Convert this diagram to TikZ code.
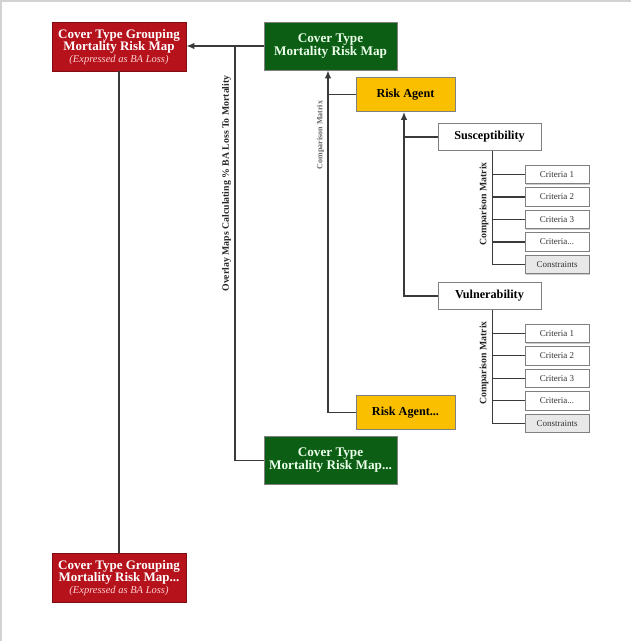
\documentclass[tikz,border=0pt]{standalone}
\usepackage{fontspec}
\setmainfont{Liberation Serif}
\usetikzlibrary{arrows.meta,shadows}
\definecolor{boxred}{HTML}{B5121B}
\definecolor{boxgreen}{HTML}{0B5E13}
\definecolor{boxyellow}{HTML}{FAC000}
\definecolor{linegray}{HTML}{3A3A3A}
\tikzset{
  redbox/.style={fill=boxred, draw=boxred!70!black, line width=0.6pt, text=white, font=\bfseries\fontsize{13}{12}\selectfont, align=center, minimum width=134pt, minimum height=49pt, inner sep=0pt},
  greenbox/.style={fill=boxgreen, draw=gray, line width=0.6pt, text=white!92!green, font=\bfseries\fontsize{13.2}{13}\selectfont, align=center, minimum width=133pt, minimum height=48pt, inner sep=0pt},
  yellowbox/.style={fill=boxyellow, draw=gray, line width=0.6pt, text=black, font=\bfseries\fontsize{12.2}{13}\selectfont, align=center, minimum width=99pt, minimum height=34pt, inner sep=0pt},
  whitebox/.style={fill=white, draw=gray, line width=0.8pt, text=black, font=\bfseries\fontsize{12.2}{13}\selectfont, align=center, minimum width=103pt, minimum height=27pt, inner sep=0pt, drop shadow={shadow xshift=0.8pt, shadow yshift=-0.8pt, fill=gray!40, opacity=1}},
  critbox/.style={fill=white, draw=gray, line width=0.8pt, text=black!80, font=\fontsize{9}{10}\selectfont, align=center, minimum width=64pt, minimum height=18.5pt, inner sep=0pt, drop shadow={shadow xshift=0.8pt, shadow yshift=-0.8pt, fill=gray!40, opacity=1}},
  consbox/.style={critbox, fill=gray!18},
  conn/.style={draw=linegray, line width=1.7pt},
  arr/.style={conn, -{Latex[length=8pt,width=6.5pt]}},
  vlabel/.style={rotate=90, font=\bfseries\fontsize{9.8}{10}\selectfont, text=black!85, inner sep=0pt},
  vsmall/.style={rotate=90, font=\bfseries\fontsize{8}{8}\selectfont, text=black!60, inner sep=0pt}
}
\newcommand{\subline}{{\color{white!82!red}\itshape\mdseries\fontsize{10.5}{11}\selectfont (Expressed as BA Loss)}}
\begin{document}
\begin{tikzpicture}[x=1pt,y=-1pt]
\useasboundingbox (0,0) rectangle (631,641);
\fill[white] (0,0) rectangle (631,641);
\draw[gray!35, line width=1.5pt] (0.75,641) -- (0.75,0.75) -- (631,0.75);

% main boxes
\node[redbox] (r1) at (119,46.5) {};
\node[font=\bfseries\fontsize{13}{12}\selectfont, text=white, align=center, inner sep=0pt] (r1t) at (119,47.5) {Cover Type Grouping\\Mortality Risk Map\\\subline};
\node[greenbox] (g1) at (330.5,46) {Cover Type\\Mortality Risk Map};
\node[greenbox] (g2) at (330.5,460.5) {Cover Type\\Mortality Risk Map...};
\node[redbox] (r2) at (119,577.5) {};
\node[font=\bfseries\fontsize{13}{12}\selectfont, text=white, align=center, inner sep=0pt] (r2t) at (119,578.5) {Cover Type Grouping\\Mortality Risk Map...\\\subline};

\node[yellowbox] (ra1) at (405.5,94.5) {Risk Agent};
\node[yellowbox] (ra2) at (405.5,412.5) {Risk Agent...};

\node[whitebox] (su) at (489.5,137) {Susceptibility};
\node[whitebox] (vu) at (489.5,296) {Vulnerability};

% criteria for susceptibility
\node[critbox] (s1) at (557,174.5) {Criteria 1};
\node[critbox] (s2) at (557,197) {Criteria 2};
\node[critbox] (s3) at (557,219.5) {Criteria 3};
\node[critbox] (s4) at (557,242) {Criteria...};
\node[consbox] (s5) at (557,264.5) {Constraints};

% criteria for vulnerability
\node[critbox] (v1) at (557,333.6) {Criteria 1};
\node[critbox] (v2) at (557,355.8) {Criteria 2};
\node[critbox] (v3) at (557,378.2) {Criteria 3};
\node[critbox] (v4) at (557,400.8) {Criteria...};
\node[consbox] (v5) at (557,423.3) {Constraints};

% junction coordinates
\coordinate (j1) at (235,46);
\coordinate (j2) at (328,412.5);
\coordinate (j3) at (404,296);
\coordinate (j4) at (492,264.5);
\coordinate (j5) at (492,423.3);

% connectors
\draw[arr] (g1.west) -- (r1.east |- g1.west);
\draw[conn] (j1) |- (g2.west);
\draw[conn] (r1.south) -- (r2.north);

\draw[arr] (ra2.west) -- (j2) -- (j2 |- g1.south);
\draw[conn] (ra1.west) -- (ra1.west -| j2);

\draw[arr] (vu.west) -- (j3) -- (j3 |- ra1.south);
\draw[conn] (su.west) -- (su.west -| j3);

\draw[conn, line width=0.9pt] (j4 |- su.south) -- (j4);
\foreach \n in {s1,s2,s3,s4,s5} \draw[conn, line width=1.3pt] (\n.west -| j4) -- (\n.west);
\draw[conn, line width=0.9pt] (j5 |- vu.south) -- (j5);
\foreach \n in {v1,v2,v3,v4,v5} \draw[conn, line width=1.3pt] (\n.west -| j5) -- (\n.west);

% rotated labels
\node[vlabel] (ol) at (226.5,183.5) {Overlay Maps Calculating \% BA Loss To Mortality};
\node[vsmall] (cm0) at (320.5,135) {Comparison Matrix};
\node[vlabel] (cm1) at (484,204) {Comparison Matrix};
\node[vlabel] (cm2) at (484,363) {Comparison Matrix};
\end{tikzpicture}
\end{document}
